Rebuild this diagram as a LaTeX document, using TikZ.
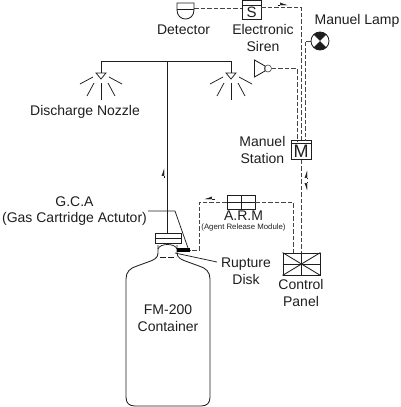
\documentclass[tikz,border=0pt]{standalone}
\usepackage{fontspec}
\setmainfont{Liberation Sans}
\usepackage{tikz}
\usetikzlibrary{arrows.meta,positioning,calc}
\definecolor{ink}{HTML}{1E1E1E}
\definecolor{wire}{HTML}{444444}
\begin{document}
\begin{tikzpicture}[x=1pt,y=-1pt,font=\fontsize{14}{16.5}\selectfont,text=ink,
  pipe/.style={draw=ink,line width=0.85pt},
  thin line/.style={draw=ink,line width=0.75pt},
  sig/.style={draw=wire,line width=0.95pt,dash pattern=on 4.5pt off 2pt},
  lbl/.style={inner sep=0pt,align=center},
  box/.style={draw=ink,line width=0.85pt,fill=white,inner sep=0pt},
  ray/.style={draw=ink,line width=0.75pt},
  flow/.style={-{Latex[length=7pt,width=5pt,left]},draw=ink,line width=0.4pt},
  flowr/.style={-{Latex[length=7pt,width=5pt,right]},draw=ink,line width=0.4pt}]
\useasboundingbox (0,0) rectangle (400,407);
% devices
\node[box,minimum width=19pt,minimum height=19pt] (siren) at (251.5,9.5) {};
\node[box,minimum width=20pt,minimum height=19pt] (station) at (301,150) {};
\node[box,minimum width=37pt,minimum height=22pt] (panel) at (301.5,264) {};
\node[box,minimum width=28pt,minimum height=14pt] (arm) at (241,202) {};
\node[box,minimum width=26pt,minimum height=10pt] (valve) at (168,238) {};
\node[circle,box,minimum size=18pt] (lamp) at (320,41) {};
\node[circle,box,minimum size=7pt,draw=wire,line width=0.6pt] (horn) at (268,68.5) {};
\node[minimum size=0pt,inner sep=0pt] (detector) at (194,8) {};
\coordinate (block) at (190,250);
% signal wires
\draw[sig] (detector) -- (siren.west|-detector);
\draw[sig] (siren.east|-0,7) -| (station.north-|301,0);
\draw[sig] (lamp.west) -- (305,41) -- (305,141);
\draw[sig] (horn.east) -- (297,68.5) -- (297,141);
\draw[sig] (station.south) -- (panel.north-|station.south);
\draw[sig] (arm.east) -- (293,202) -- (293,253);
\draw[sig] (arm.west) -- (199,202) -- (199,250) -- (block);
% flow marks
\draw[flow] (278,5) -- ++(10,0);
\draw[flowr] (215,199) -- ++(-11,0);
\draw[flow] (307,179) -- ++(0,-9);
\draw[flowr] (307,182) -- ++(0,9);
\draw[flow] (164,178) -- ++(0,-10);
% discharge piping
\coordinate (tee) at (167,61);
\draw[pipe] (valve.north-|tee) -- (tee);
\draw[pipe] (101,73) -- (101,61) -- (231,61) -- (231,73);
\foreach \nx in {101,231}{
  \draw[thin line] (\nx-5,73) -- (\nx+5,73) -- (\nx,79) -- cycle;
  \draw[ray] (\nx,83) -- (\nx,100);
  \draw[ray] (\nx-7,83) -- (\nx-14,96);
  \draw[ray] (\nx+7,83) -- (\nx+14,96);
  \draw[ray] (\nx-8,77) -- (\nx-21,84);
  \draw[ray] (\nx+8,77) -- (\nx+21,84);
}
% detector, horn, lamp
\draw[pipe] (177,3) -- (194,3) -- (194,10) .. controls (194,22) and (177,22) .. (177,10) -- cycle;
\draw[pipe] (177,9) -- (194,9);
\draw[pipe] (254.5,60) -- (265,66) -- (265,71) -- (254.5,77) -- cycle;
\fill[ink] (lamp.center) -- ++(-6.4,-6.4) arc (225:315:9) -- cycle;
\fill[ink] (lamp.center) -- ++(-6.4,6.4) arc (135:45:9) -- cycle;
% box details
\draw[pipe] (siren.west|-0,5) -- (siren.east|-0,5);
\node[lbl,font=\fontsize{15}{15}\selectfont] (sirens) at (251.5,12) {S};
\draw[pipe] (station.west|-0,143.5) -- (station.east|-0,143.5);
\node[lbl,font=\fontsize{18}{18}\selectfont] (stationm) at (301,151.5) {M};
\draw[pipe] (panel.south west) -- (panel.north east) (panel.north west) -- (panel.south east);
\draw[pipe] (panel.west) -- (panel.east) (panel.north) -- (panel.south);
\draw[pipe] (arm.west) -- (arm.east) (arm.north) -- (arm.south);
% container
\draw[pipe] (valve.west) -- (valve.east);
\draw[pipe] (158,245) -- (158,253) .. controls (158,258) and (154,260) .. (148,262) -- (137,266)
  .. controls (130,268) and (126,272) .. (126,279) -- (126,397) .. controls (126,403) and (129,406) .. (135,406)
  -- (201,406) .. controls (207,406) and (210,403) .. (210,397) -- (210,279)
  .. controls (210,272) and (206,268) .. (199,266) -- (188,262) .. controls (182,260) and (177,258) .. (177,253) -- (177,245);
\draw[thin line] (158,249) .. controls (160,243) and (175,243) .. (177,249);
\draw[thin line,dash pattern=on 6pt off 2pt] (160,257.5) -- (176,257.5);
\fill[black] (177,248) rectangle (190,252);
% leaders
\draw[thin line] (148,211) -- (175,211) -- (188,248);
\draw[thin line] (175,253) -- (217,262);
% labels
\node[lbl] (detectorl) at (183.5,30) {Detector};
\node[lbl] (sirenl) at (263,38) {Electronic\\Siren};
\node[lbl] (lampl) at (357,21) {Manuel Lamp};
\node[lbl] (nozzlel) at (85,112) {Discharge Nozzle};
\node[lbl,left=5pt of station.west] (stationl) {Manuel\\Station};
\node[lbl] (gcal) at (74.5,211) {G.C.A\\(Gas Cartridge Actutor)};
\node[lbl] (arml) at (243.5,216) {A.R.M};
\node[lbl,font=\fontsize{7.8}{8}\selectfont] (armsub) at (243.5,227) {(Agent Release Module)};
\node[lbl] (rupturel) at (246,271) {Rupture\\Disk};
\node[lbl] (panell) at (301,293) {Control\\Panel};
\node[lbl] (fml) at (168,318) {FM-200\\Container};
\end{tikzpicture}
\end{document}
